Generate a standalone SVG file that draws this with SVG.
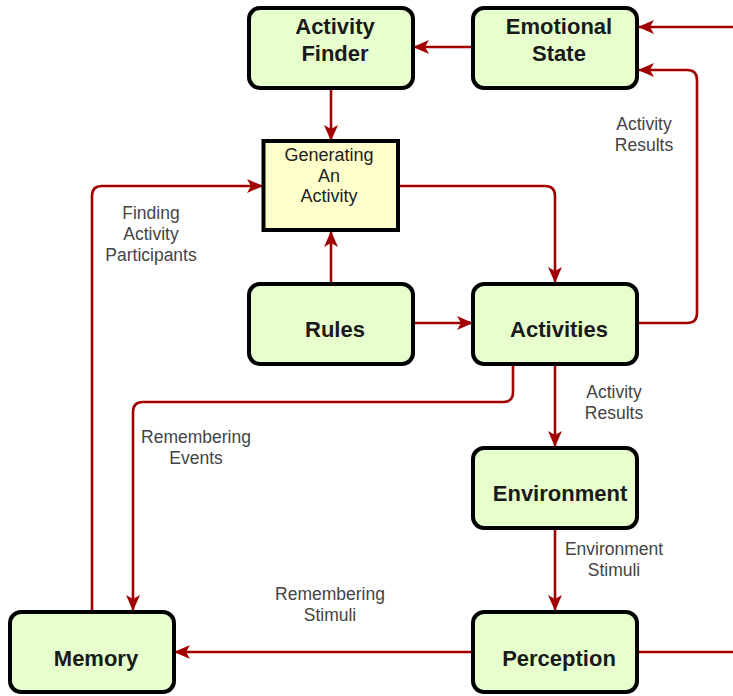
<svg xmlns="http://www.w3.org/2000/svg" width="733" height="696" viewBox="0 0 733 696">
<defs>
<marker id="ah" markerUnits="userSpaceOnUse" markerWidth="16" markerHeight="14" refX="15" refY="7" orient="auto">
<path d="M0,0 L16,7 L0,14 L4,7 Z" fill="#A20000"/>
</marker>
<style>
.node rect{fill:#E6FFCC;stroke:#000;stroke-width:4}
.gen rect{fill:#FFFFCC;stroke:#000;stroke-width:4}
.nt{font-family:"Liberation Sans",Arial,sans-serif;font-weight:bold;font-size:22px;fill:#1a1a1a;text-anchor:middle}
.gt{font-family:"Liberation Sans",Arial,sans-serif;font-size:18px;fill:#222;text-anchor:middle}
.lb{font-family:"Liberation Sans",Arial,sans-serif;font-size:17.5px;fill:#444;text-anchor:middle}
.c path{fill:none;stroke:#A20000;stroke-width:2.6;marker-end:url(#ah)}
.c path.nm{marker-end:none}
</style>
</defs>
<rect width="733" height="696" fill="#fff"/>
<g class="c" id="connectors">
<path d="M473,47 L414,47"/>
<path d="M331,88 L331,140"/>
<path d="M331,283 L331,232"/>
<path d="M399,186 L545,186 Q555,186 555,196 L555,282"/>
<path d="M414,323 L472,323"/>
<path d="M637,323 L687,323 Q697,323 697,313 L697,80 Q697,70 687,70 L639,70"/>
<path d="M733,27 L639,27"/>
<path d="M555,364 L555,446"/>
<path d="M513,364 L513,392 Q513,402 503,402 L143,402 Q133,402 133,412 L133,610"/>
<path d="M555,528 L555,610"/>
<path d="M473,652 L175,652"/>
<path d="M92,611 L92,196 Q92,186 102,186 L262,186"/>
<path class="nm" d="M637,652 L733,652"/>
</g>
<g id="activity-finder" class="node"><rect x="249" y="8" width="164" height="80" rx="11"/><text class="nt" x="335" y="34">Activity</text><text class="nt" x="335" y="61">Finder</text></g>
<g id="emotional-state" class="node"><rect x="473" y="8" width="164" height="80" rx="11"/><text class="nt" x="559" y="34">Emotional</text><text class="nt" x="559" y="61">State</text></g>
<g id="generating" class="gen"><rect x="263.5" y="141" width="134.5" height="89"/><text class="gt" x="329" y="161">Generating</text><text class="gt" x="329" y="182">An</text><text class="gt" x="329" y="202">Activity</text></g>
<g id="rules" class="node"><rect x="249" y="284" width="164" height="80" rx="11"/><text class="nt" x="335" y="337">Rules</text></g>
<g id="activities" class="node"><rect x="473" y="284" width="164" height="80" rx="11"/><text class="nt" x="559" y="337">Activities</text></g>
<g id="environment" class="node"><rect x="473" y="448" width="164" height="80" rx="11"/><text class="nt" x="560" y="501">Environment</text></g>
<g id="memory" class="node"><rect x="10" y="612" width="164" height="80" rx="11"/><text class="nt" x="96" y="666">Memory</text></g>
<g id="perception" class="node"><rect x="473" y="612" width="164" height="80" rx="11"/><text class="nt" x="559" y="666">Perception</text></g>
<g id="labels">
<text class="lb" x="644" y="130">Activity</text><text class="lb" x="644" y="151">Results</text>
<text class="lb" x="151" y="219">Finding</text><text class="lb" x="151" y="240">Activity</text><text class="lb" x="151" y="261">Participants</text>
<text class="lb" x="196" y="443">Remembering</text><text class="lb" x="196" y="464">Events</text>
<text class="lb" x="614" y="398">Activity</text><text class="lb" x="614" y="419">Results</text>
<text class="lb" x="614" y="555">Environment</text><text class="lb" x="614" y="576">Stimuli</text>
<text class="lb" x="330" y="600">Remembering</text><text class="lb" x="330" y="621">Stimuli</text>
</g>
</svg>
